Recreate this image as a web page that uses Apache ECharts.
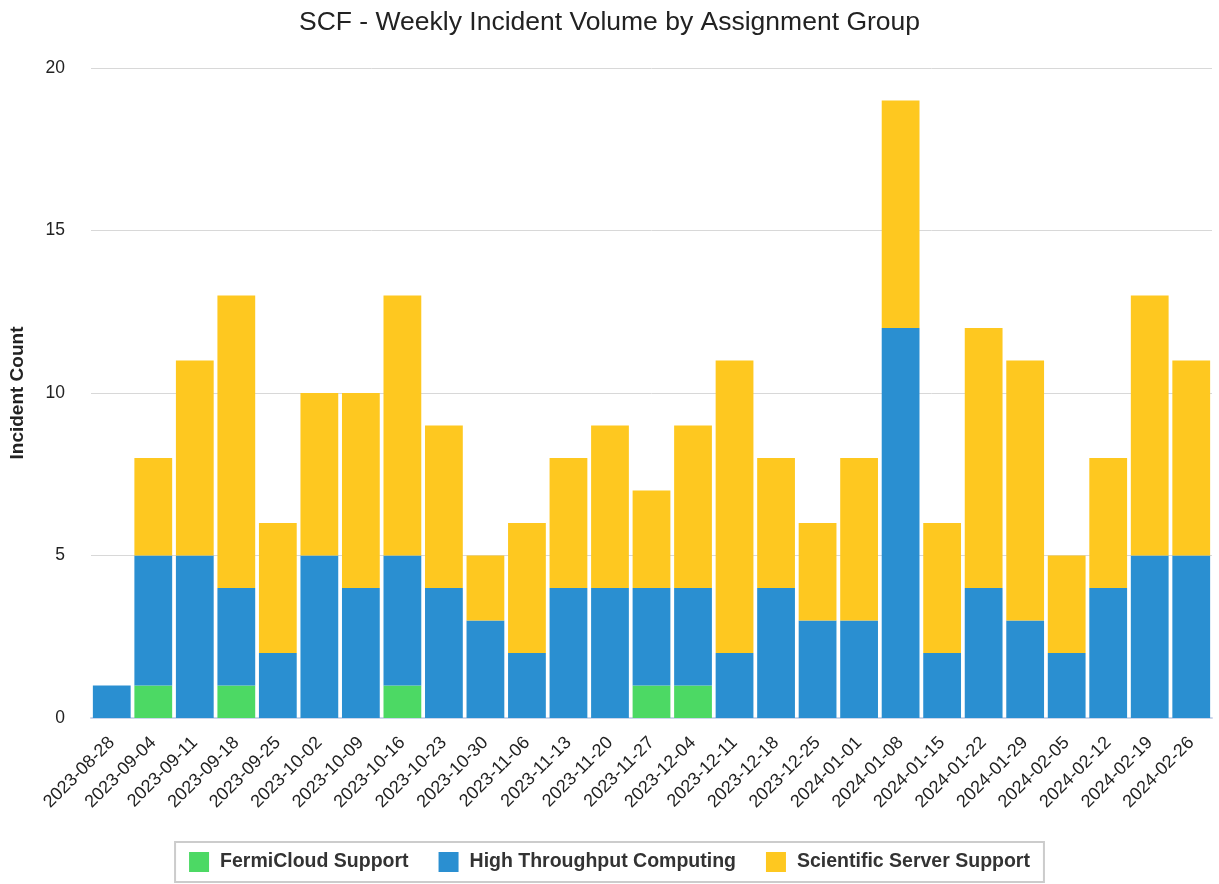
<!DOCTYPE html>
<html>
<head>
<meta charset="utf-8">
<script src="https://cdn.jsdelivr.net/npm/echarts@6/dist/echarts.min.js"></script>
<style>
  html, body { margin: 0; padding: 0; background: #fff; }
  #chart { width: 1219px; height: 884px; }
</style>
</head>
<body>
<div id="chart"></div>
<script>
var weeks = ['2023-08-28','2023-09-04','2023-09-11','2023-09-18','2023-09-25','2023-10-02','2023-10-09',
    '2023-10-16','2023-10-23','2023-10-30','2023-11-06','2023-11-13','2023-11-20','2023-11-27',
    '2023-12-04','2023-12-11','2023-12-18','2023-12-25','2024-01-01','2024-01-08','2024-01-15',
    '2024-01-22','2024-01-29','2024-02-05','2024-02-12','2024-02-19','2024-02-26'];
var fermiCloud = [0,1,0,1,0,0,0,1,0,0,0,0,0,1,1,0,0,0,0,0,0,0,0,0,0,0,0];
var htc        = [1,4,5,3,2,5,4,4,4,3,2,4,4,3,3,2,4,3,3,12,2,4,3,2,4,5,5];
var sss        = [0,3,6,9,4,5,6,8,5,2,4,4,5,3,5,9,4,3,5,7,4,8,8,3,4,8,6];
var yTicks = [0, 5, 10, 15, 20];

var chart = echarts.init(document.getElementById('chart'));

var barStyle = function (name, data, color) {
    return {
        name: name,
        type: 'bar',
        stack: 'total',
        barCategoryGap: '9%',
        data: data,
        itemStyle: { color: color },
        emphasis: { disabled: true }
    };
};

var option = {
    animation: false,
    title: {
        text: 'SCF - Weekly Incident Volume by Assignment Group',
        left: 'center',
        top: 4,
        textStyle: { fontFamily: 'Liberation Sans', fontSize: 26.5, fontWeight: 'normal', color: '#222' }
    },
    grid: { left: 89, right: 7, top: 68, bottom: 166 },
    legend: {
        bottom: 2,
        left: 'center',
        data: ['FermiCloud Support', 'High Throughput Computing', 'Scientific Server Support'],
        icon: 'rect',
        itemWidth: 20,
        itemHeight: 20,
        itemGap: 30,
        borderColor: '#cccccc',
        borderWidth: 2,
        padding: [10, 14, 10, 14],
        textStyle: { fontFamily: 'Liberation Sans', fontSize: 19.5, fontWeight: 'bold', color: '#333', padding: [0, 0, 0, 6] }
    },
    xAxis: {
        type: 'category',
        data: weeks,
        axisLine: { lineStyle: { color: '#ccd6eb', width: 2 } },
        axisTick: { show: false },
        axisLabel: {
            rotate: 45,
            interval: 0,
            margin: 22,
            fontFamily: 'Liberation Sans',
            fontSize: 18,
            color: '#222'
        }
    },
    yAxis: {
        type: 'value',
        min: yTicks[0],
        max: yTicks[yTicks.length - 1],
        interval: 5,
        name: 'Incident Count',
        nameLocation: 'middle',
        nameGap: 64,
        nameTextStyle: { fontFamily: 'Liberation Sans', fontSize: 19, fontWeight: 'bold', color: '#222' },
        axisLabel: { margin: 26, fontFamily: 'Liberation Sans', fontSize: 17.5, color: '#222' },
        splitLine: { lineStyle: { color: '#d8d8d8', width: 1 } }
    },
    series: [
        barStyle('FermiCloud Support', fermiCloud, '#4cd964'),
        barStyle('High Throughput Computing', htc, '#2a8fd1'),
        barStyle('Scientific Server Support', sss, '#fec820')
    ]
};

chart.setOption(option);
</script>
</body>
</html>
